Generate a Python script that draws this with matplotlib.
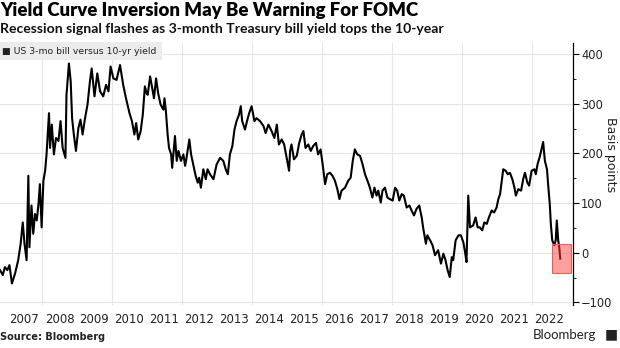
import matplotlib.pyplot as plt
from matplotlib.patches import Rectangle
from matplotlib.ticker import MultipleLocator, FixedLocator, NullFormatter

# 3-month bill vs 10-year yield spread, basis points (decimal year, value)
years = [
    2006.80, 2006.88, 2006.94, 2007.01, 2007.07, 2007.14, 2007.23, 2007.32, 2007.39, 2007.45,
    2007.50, 2007.56, 2007.61, 2007.64, 2007.70, 2007.75, 2007.80, 2007.85, 2007.90, 2007.94,
    2007.99, 2008.04, 2008.09, 2008.13, 2008.20, 2008.23, 2008.28, 2008.34, 2008.40, 2008.47,
    2008.53, 2008.59, 2008.67, 2008.70, 2008.77, 2008.82, 2008.86, 2008.91, 2008.97, 2009.04,
    2009.10, 2009.16, 2009.23, 2009.30, 2009.37, 2009.42, 2009.50, 2009.58, 2009.66, 2009.75,
    2009.83, 2009.90, 2009.96, 2010.04, 2010.13, 2010.23, 2010.32, 2010.40, 2010.50, 2010.57,
    2010.64, 2010.69, 2010.75, 2010.82, 2010.88, 2010.94, 2010.99,
    2011.02, 2011.09, 2011.15, 2011.20, 2011.26, 2011.32, 2011.39, 2011.47, 2011.50, 2011.54,
    2011.59, 2011.63, 2011.69, 2011.72, 2011.80, 2011.85, 2011.90, 2011.97, 2012.04, 2012.09,
    2012.13, 2012.21, 2012.26, 2012.32, 2012.39, 2012.45, 2012.49, 2012.54, 2012.61, 2012.68,
    2012.73, 2012.80, 2012.90, 2012.99, 2013.09, 2013.18, 2013.25, 2013.31, 2013.37, 2013.44,
    2013.50, 2013.56, 2013.63, 2013.68, 2013.72, 2013.80, 2013.87, 2013.92, 2013.99, 2014.07,
    2014.13, 2014.23, 2014.33, 2014.39, 2014.47, 2014.56, 2014.64, 2014.71, 2014.77, 2014.85,
    2014.92, 2014.99, 2015.06,
    2015.09, 2015.13, 2015.20, 2015.28, 2015.35, 2015.42, 2015.47, 2015.53, 2015.61, 2015.68,
    2015.75, 2015.83, 2015.89, 2015.96, 2016.02, 2016.09, 2016.15, 2016.23, 2016.30, 2016.37,
    2016.44, 2016.50, 2016.56, 2016.66, 2016.75, 2016.82, 2016.88, 2016.94, 2017.01, 2017.09,
    2017.16, 2017.23, 2017.30, 2017.37, 2017.44, 2017.50, 2017.56, 2017.61, 2017.68, 2017.73,
    2017.80, 2017.87, 2017.94, 2018.02, 2018.09, 2018.15, 2018.21, 2018.28, 2018.34, 2018.42,
    2018.50, 2018.56, 2018.63, 2018.70, 2018.78, 2018.85, 2018.89, 2018.97, 2019.01, 2019.09,
    2019.16, 2019.23,
    2019.32, 2019.40, 2019.47, 2019.53, 2019.59, 2019.65, 2019.71, 2019.75, 2019.82, 2019.90,
    2019.97, 2020.04, 2020.09, 2020.13, 2020.18, 2020.23, 2020.32, 2020.39, 2020.45, 2020.51,
    2020.58, 2020.64, 2020.71, 2020.77, 2020.85, 2020.92, 2020.99, 2021.04, 2021.09, 2021.13,
    2021.18, 2021.25, 2021.31, 2021.37, 2021.44, 2021.50, 2021.54, 2021.61, 2021.69, 2021.75,
    2021.80, 2021.87, 2021.92, 2021.99, 2022.07, 2022.11, 2022.16, 2022.23, 2022.28, 2022.32,
    2022.37, 2022.43, 2022.47, 2022.51, 2022.54, 2022.58, 2022.64, 2022.68, 2022.71, 2022.75,
    2022.78, 2022.81,
]
spread = [
    -35, -45, -29, -35, -25, -62, -42, -15, 18, 61,
    18, -15, 155, 11, 95, 38, 78, 65, 98, 138,
    51, 145, 165, 198, 281, 211, 258, 198, 231, 225,
    265, 211, 191, 318, 381, 345, 271, 238, 205, 251,
    268, 238, 271, 298, 345, 371, 315, 361, 325, 315,
    338, 325, 375, 351, 348, 378, 338, 311, 281, 265,
    238, 261, 228, 245, 278, 335, 321,
    318, 355, 331, 311, 351, 321, 298, 288, 311, 285,
    238, 211, 198, 171, 235, 185, 205, 185, 198, 175,
    191, 228, 198, 178, 155, 141, 151, 131, 168, 148,
    168, 158, 148, 178, 191, 185, 168, 158, 198, 215,
    248, 265, 278, 295, 265, 248, 268, 281, 295, 265,
    271, 265, 255, 241, 258, 245, 231, 258, 218, 228,
    218, 191, 165,
    205, 218, 188, 195, 221, 238, 245, 211, 218, 205,
    215, 221, 198, 208, 178, 138, 158, 161, 155, 145,
    128, 108, 125, 131, 145, 151, 185, 208, 198, 195,
    178, 158, 145, 131, 111, 131, 115, 125, 101, 125,
    131, 111, 108, 105, 131, 125, 105, 118, 115, 91,
    95, 85, 75, 88, 95, 71, 51, 18, 35, 25,
    15, -5,
    5, -22, -2, -15, -35, -49, -9, -15, 25, 35,
    35, 21, 1, -19, 115, 51, 55, 71, 51, 51,
    45, 61, 58, 71, 85, 81, 91, 108, 118, 141,
    168, 165, 158, 161, 148, 131, 115, 128, 125, 148,
    161, 141, 135, 165, 168, 158, 178, 195, 211, 223,
    185, 168, 131, 98, 58, 25, 15, 25, 65, 25,
    11, -12,
]

# highlighted inversion window
box_x = (2022.56, 2023.11)
box_y = (-40, 18)

year_labels = list(range(2007, 2023))

fig = plt.figure(figsize=(6.2, 3.48), dpi=100)
ax = fig.add_axes([0.0, 0.124, 0.924, 0.752])

ax.plot(years, spread, color='black', lw=1.5, zorder=3)

ax.add_patch(Rectangle((box_x[0], box_y[0]), box_x[1] - box_x[0], box_y[1] - box_y[0],
                       facecolor=(1.0, 0.25, 0.25, 0.5), edgecolor='#e06060',
                       lw=0.8, zorder=4))

ax.set_xlim(2006.8, 2023.17)
ax.set_ylim(-105, 422)

# gridlines on even years, labels centred within each year
ax.xaxis.set_major_locator(FixedLocator(range(2008, 2024, 2)))
ax.xaxis.set_major_formatter(NullFormatter())
ax.xaxis.set_minor_locator(FixedLocator([y + 0.5 for y in year_labels]))
ax.set_xticklabels([str(y) for y in year_labels], minor=True)
ax.tick_params(axis='x', which='both', length=0, labelsize=8.5, pad=6, colors='#222222')

ax.yaxis.tick_right()
ax.yaxis.set_major_locator(MultipleLocator(100))
ax.yaxis.set_minor_locator(MultipleLocator(50))
ax.tick_params(axis='y', which='major', length=4, width=0.8, labelsize=8.3, pad=2,
               labelcolor='#222222')
ax.tick_params(axis='y', which='minor', length=2.5, width=0.6)

ax.grid(True, which='major', color='#e6e6e6', lw=0.8, zorder=0)
for s in ['left', 'top', 'bottom']:
    ax.spines[s].set_visible(False)
ax.spines['right'].set_linewidth(0.9)

fig.text(0.984, 0.555, 'Basis points', rotation=-90, fontsize=9, color='#222222',
         ha='center', va='center')

# legend strip
fig.text(0.004, 0.853, '\u25a0 US 3-mo bill versus 10-yr yield', fontsize=6.7, va='center',
         ha='left', color='#222222',
         bbox=dict(boxstyle='square,pad=0.5', facecolor='#ececec', edgecolor='none'))

fig.text(0.0, 0.995, 'Yield Curve Inversion May Be Warning For FOMC', fontsize=13.4,
         family=['Lato', 'DejaVu Sans'], fontweight='heavy', va='top', ha='left')
fig.text(0.0, 0.935, 'Recession signal flashes as 3-month Treasury bill yield tops the 10-year',
         fontsize=10.1, family=['Lato', 'DejaVu Sans'], fontweight='bold', va='top',
         ha='left', color='#111111')
fig.text(0.0, 0.018, 'Source: Bloomberg', fontsize=7, fontweight='bold', va='bottom',
         ha='left', color='#222222')
fig.text(0.962, 0.02, 'Bloomberg', fontsize=9.5, family=['Lato', 'DejaVu Sans'],
         va='bottom', ha='right', color='#222222')
fig.text(0.997, 0.02, '\u25a0', fontsize=10, va='bottom', ha='right', color='#222222')

fig.savefig('out.png', dpi=100)
